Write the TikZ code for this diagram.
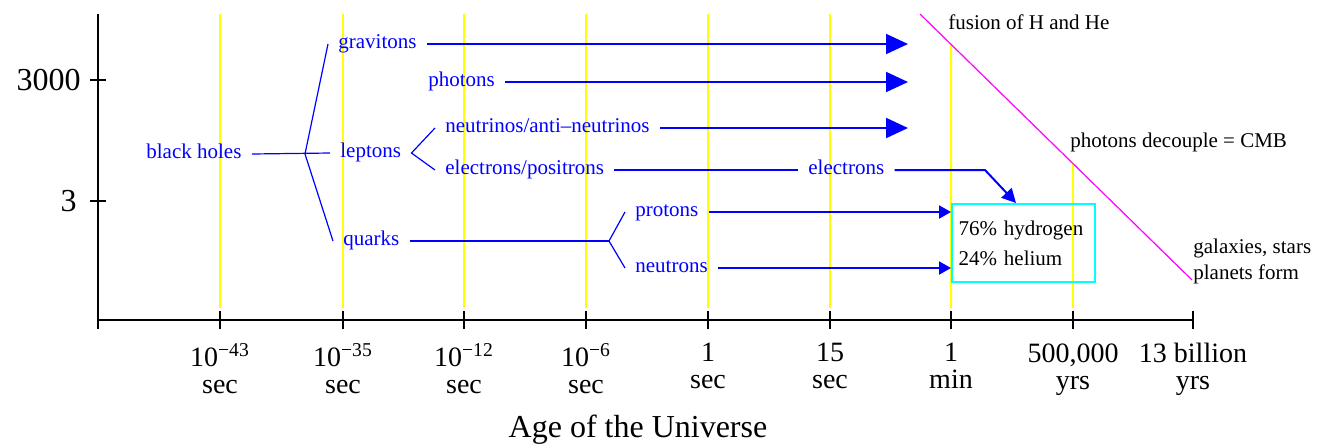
\documentclass[tikz,border=0pt]{standalone}
\usepackage{fontspec}
\setmainfont{Liberation Serif}
\usetikzlibrary{arrows.meta, calc}
\definecolor{particleblue}{HTML}{0000FF}
\definecolor{epochyellow}{HTML}{FFFF00}
\definecolor{eramagenta}{HTML}{FF00FF}
\definecolor{mixcyan}{HTML}{00FFFF}

\tikzset{
  particle/.style={font=\fontsize{10.5}{12}\selectfont, text=particleblue,
                   inner ysep=0pt, inner xsep=5pt, anchor=mid west},
  eventlabel/.style={font=\fontsize{10.5}{13}\selectfont, inner sep=0pt, align=left},
  ticklabel/.style={font=\fontsize{14}{13.5}\selectfont, inner sep=0pt,
                    align=center, anchor=north},
  flow/.style={particleblue, line width=1pt},
  bigtip/.style={flow, -{Triangle[length=11pt,width=10pt]}},
  smalltip/.style={flow, -{Triangle[length=6pt,width=6.5pt]}},
  fork/.style={particleblue, line width=0.6pt},
  epoch/.style={epochyellow, line width=1pt},
  axisline/.style={black, line width=0.9pt},
  mixbox/.style={draw=mixcyan, line width=1pt, minimum width=71.5pt,
                 minimum height=39pt, text width=65pt, inner xsep=3pt,
                 align=left, font=\fontsize{10.5}{15}\selectfont}
}

\begin{document}
\begin{tikzpicture}[x=0.5pt, y=-0.5pt]
  \useasboundingbox (0,0) rectangle (1318,446);

  % epochs
  \coordinate (fuseA) at (920,14);
  \coordinate (fuseB) at (1192,280);
  \foreach \x in {220,343,464,586,708,830}
    \draw[epoch] (\x,14) -- (\x,308);
  \foreach \x in {951,1073}
    \draw[epoch] ($(fuseA)!{(\x-920)/272}!(fuseB)$) -- (\x,308);
  \draw[eramagenta, line width=0.6pt] (fuseA) -- (fuseB);

  % axes
  \draw[axisline] (98,14) -- (98,320) -- (1193,320);
  \foreach \x in {98,220,343,464,586,708,830,951,1073,1193}
    \draw[axisline] (\x,311) -- (\x,329);
  \draw[axisline] (90,80) -- (106,80);
  \draw[axisline] (90,201) -- (106,201);
  \node[font=\fontsize{16}{18}\selectfont, anchor=east, inner sep=0pt] (y3000) at (81,80) {3000};
  \node[font=\fontsize{16}{18}\selectfont, anchor=east, inner sep=0pt] (y3) at (77,201) {3};

  \foreach \x/\lbl [count=\i] in {220/{10\textsuperscript{−43}\\sec},
      343/{10\textsuperscript{−35}\\sec}, 464/{10\textsuperscript{−12}\\sec},
      586/{10\textsuperscript{−6}\\sec}, 708/{1\\sec}, 830/{15\\sec},
      951/{1\\min}, 1073/{500,000\\yrs}, 1193/{13 billion\\yrs}}
    \node[ticklabel] (tick\i) at (\x,343) {\lbl};
  \node[font=\fontsize{16}{18}\selectfont, anchor=base, inner sep=0pt] (agetitle) at (638,437) {Age of the Universe};

  % particles
  \node[particle] (bh) at (136,154) {black holes};
  \node[particle] (grav) at (328,44) {gravitons};
  \node[particle] (lep) at (330,153) {leptons};
  \node[particle] (quarks) at (333,241) {quarks};
  \node[particle] (phot) at (418,82) {photons};
  \node[particle] (neut) at (435,128) {neutrinos/anti–neutrinos};
  \node[particle] (elpos) at (435,170) {electrons/positrons};
  \node[particle] (elec) at (798,170) {electrons};
  \node[particle] (prot) at (625,212) {protons};
  \node[particle] (neutr) at (625,268) {neutrons};

  \node[mixbox, anchor=north west] (mix) at (951,203) {76\% hydrogen\\24\% helium};

  \node[eventlabel, anchor=base west] (fusion) at (948,29) {fusion of H and He};
  \node[eventlabel, anchor=base west] (decouple) at (1070,147) {photons decouple = CMB};
  \node[eventlabel, anchor=west] (galaxies) at (1193,261) {galaxies, stars\\planets form};

  % forks
  \coordinate (bhfork) at (305,154);
  \coordinate (qfork) at (609,241);
  \coordinate (tipcol) at (908,0);
  \coordinate (ebend) at (985,170);
  \draw[fork] (bh.mid east) -- (lep.mid west);
  \draw[fork] (grav.mid west) -- (bhfork) -- (quarks.mid west);
  \draw[fork] (neut.mid west) -- (lep.mid east) -- (elpos.mid west);
  \draw[flow] (quarks.mid east) -- (qfork);
  \draw[fork] (prot.mid west) -- (qfork) -- (neutr.mid west);

  % arrows
  \draw[bigtip] (grav.mid east) -- (grav.mid east -| tipcol);
  \draw[bigtip] (phot.mid east) -- (phot.mid east -| tipcol);
  \draw[bigtip] (neut.mid east) -- (neut.mid east -| tipcol);
  \draw[flow] (elpos.mid east) -- (elec.mid west);
  \draw[flow, -{Triangle[length=7pt,width=7pt]}] (elec.mid east) -- (ebend)
    -- ($(mix.north west)+(65,0)$);
  \draw[smalltip] (prot.mid east) -- (prot.mid east -| mix.west);
  \draw[smalltip] (neutr.mid east) -- (neutr.mid east -| mix.west);
\end{tikzpicture}
\end{document}
